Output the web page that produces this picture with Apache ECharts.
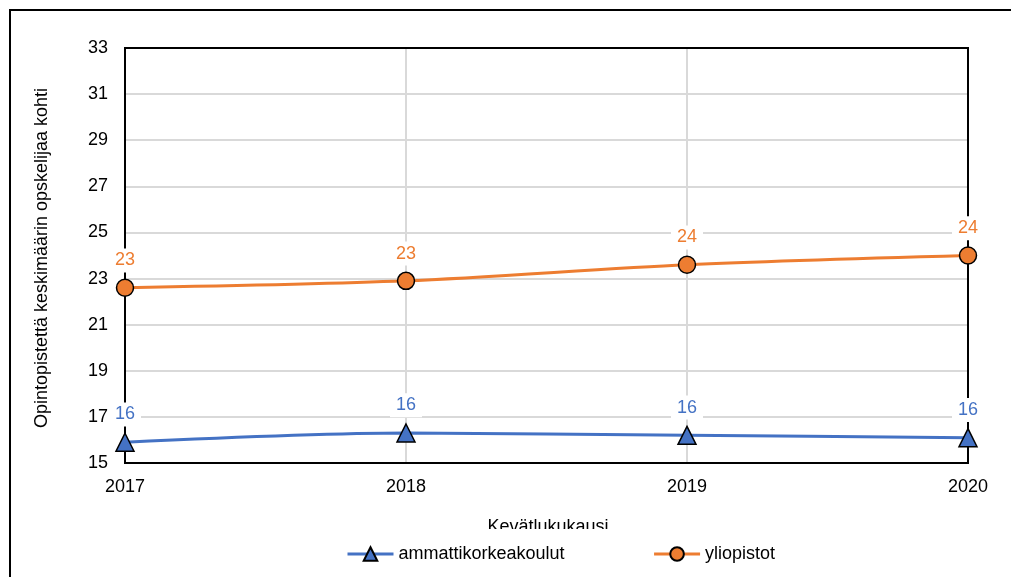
<!DOCTYPE html>
<html>
<head>
<meta charset="utf-8">
<script src="https://cdn.jsdelivr.net/npm/echarts@6/dist/echarts.min.js"></script>
<style>html,body{margin:0;padding:0;background:#fff}#c{width:1011px;height:577px}</style>
</head>
<body>
<div id="c"></div>
<script>
const categories = ['2017', '2018', '2019', '2020'];
const ammattikorkeakoulut = [15.9, 16.3, 16.2, 16.1];
const yliopistot = [22.6, 22.9, 23.6, 24.0];
const seriesNames = ['ammattikorkeakoulut', 'yliopistot'];
const yTitle = 'Opintopistettä keskimäärin opskelijaa kohti';
const xTitle = 'Kevätlukukausi';

const FONT = '"Liberation Sans", Arial, sans-serif';
const FS = 18;
const chart = echarts.init(document.getElementById('c'));
function lbl(color) {
  return {
    show: true, position: 'top', distance: 6,
    formatter: p => Math.round(p.value).toString(),
    color: color, fontFamily: FONT, fontSize: FS,
    backgroundColor: '#fff', padding: [3, 6]
  };
}
chart.setOption({
  animation: false,
  textStyle: { fontFamily: FONT },
  grid: { left: 125, right: 43, top: 48, bottom: 114, show: true, borderColor: '#000', borderWidth: 2, backgroundColor: 'transparent', z: 1 },
  graphic: [
    { type: 'rect', shape: { x: 10, y: 10, width: 1100, height: 700 }, style: { fill: 'none', stroke: '#000', lineWidth: 2 }, z: 0, silent: true },
    { type: 'text', x: 548, y: 536, style: { text: xTitle, font: FS + 'px ' + FONT, fill: '#000', textAlign: 'center', textVerticalAlign: 'bottom' }, z: 5 },
    { type: 'rect', shape: { x: 420, y: 529, width: 260, height: 20 }, style: { fill: '#fff' }, z: 6 },
    { type: 'text', x: 42, y: 258, rotation: Math.PI / 2, style: { text: yTitle, font: FS + 'px ' + FONT, fill: '#000', textAlign: 'center', textVerticalAlign: 'middle' }, z: 5 }
  ],
  legend: {
    data: [
      { name: seriesNames[0], lineStyle: { width: 3 } },
      { name: seriesNames[1], lineStyle: { width: 3 } }
    ],
    top: 540, left: 341, itemWidth: 46, itemHeight: 17, itemGap: 88, z: 10,
    textStyle: { fontFamily: FONT, fontSize: FS, color: '#000' }
  },
  xAxis: {
    type: 'category', data: categories, boundaryGap: false,
    axisLine: { lineStyle: { color: '#000', width: 2 } },
    axisTick: { show: false },
    axisLabel: { color: '#000', fontSize: FS, fontFamily: FONT, margin: 15 },
    splitLine: { show: true, lineStyle: { color: '#d9d9d9', width: 2 } }
  },
  yAxis: {
    type: 'value', min: 15, max: 33, interval: 2,
    axisLine: { show: true, lineStyle: { color: '#000', width: 2 } },
    axisTick: { show: false },
    axisLabel: { color: '#000', fontSize: FS, fontFamily: FONT, margin: 17 },
    splitLine: { show: true, lineStyle: { color: '#d9d9d9', width: 2 } }
  },
  series: [
    {
      name: seriesNames[0], type: 'line', data: ammattikorkeakoulut, smooth: 0.3,
      symbol: 'triangle', symbolSize: 18,
      lineStyle: { color: '#4472C4', width: 3 },
      itemStyle: { color: '#4472C4', borderColor: '#000', borderWidth: 1.5 },
      label: lbl('#4472C4'), z: 3
    },
    {
      name: seriesNames[1], type: 'line', data: yliopistot, smooth: 0.3,
      symbol: 'circle', symbolSize: 17,
      lineStyle: { color: '#ED7D31', width: 3 },
      itemStyle: { color: '#ED7D31', borderColor: '#000', borderWidth: 1.5 },
      label: lbl('#ED7D31'), z: 3
    }
  ]
});
</script>
</body>
</html>
